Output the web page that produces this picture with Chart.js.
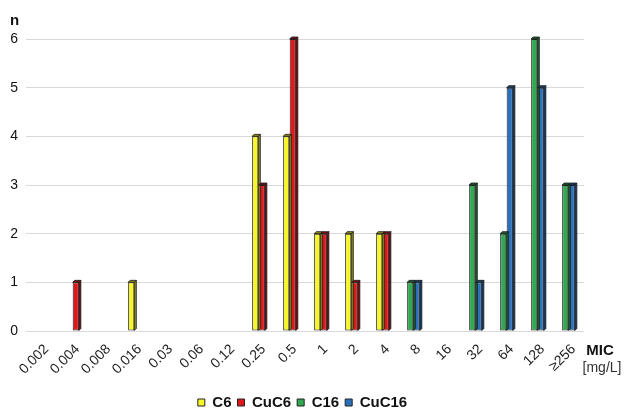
<!DOCTYPE html>
<html>
<head>
<meta charset="utf-8">
<script src="https://cdn.jsdelivr.net/npm/chart.js@4"></script>
<style>
  html, body { margin: 0; padding: 0; background: #fff; }
  #wrap { width: 625px; height: 411px; position: relative; }
</style>
</head>
<body>
<div id="wrap"><canvas id="myChart" width="625" height="411"></canvas></div>
<script>
// MIC categories (mg/L)
const micLabels = ['0.002', '0.004', '0.008', '0.016', '0.03', '0.06', '0.12', '0.25', '0.5',
                   '1', '2', '4', '8', '16', '32', '64', '128', '≥256'];
// number of strains per MIC value
const c6Counts    = [null, null, null, 1, null, null, null, 4, 4, 2, 2, 2, null, null, null, null, null, null];
const cuC6Counts  = [null, 1, null, null, null, null, null, 3, 6, 2, 1, 2, null, null, null, null, null, null];
const c16Counts   = [null, null, null, null, null, null, null, null, null, null, null, null, 1, null, 3, 2, 6, 3];
const cuC16Counts = [null, null, null, null, null, null, null, null, null, null, null, null, 1, null, 1, 5, 5, 3];
const yTicks = [0, 1, 2, 3, 4, 5, 6];

const FONT = "'Liberation Sans', Arial, sans-serif";

// darker side face + top cap, gives the bars the old 3D look
const sideFaces = {
    id: 'sideFaces',
    afterDatasetsDraw(chart) {
        const ctx = chart.ctx;
        const d = 2;
        chart.data.datasets.forEach((ds, i) => {
            const meta = chart.getDatasetMeta(i);
            meta.data.forEach((bar, j) => {
                if (ds.data[j] == null) return;
                const right = bar.x + bar.width / 2;
                const left = bar.x - bar.width / 2;
                ctx.save();
                ctx.fillStyle = ds.sideColor;
                ctx.strokeStyle = '#1a1a1a';
                ctx.lineWidth = 0.8;
                ctx.beginPath();
                ctx.moveTo(right, bar.y);
                ctx.lineTo(right + d, bar.y - d);
                ctx.lineTo(right + d, bar.base - d);
                ctx.lineTo(right, bar.base);
                ctx.closePath();
                ctx.fill();
                ctx.stroke();
                ctx.beginPath();
                ctx.moveTo(left, bar.y);
                ctx.lineTo(left + d, bar.y - d);
                ctx.lineTo(right + d, bar.y - d);
                ctx.lineTo(right, bar.y);
                ctx.closePath();
                ctx.fill();
                ctx.stroke();
                ctx.restore();
            });
        });
    }
};

// "n" and "MIC [mg/L]" axis captions
const captions = {
    id: 'captions',
    afterDraw(chart) {
        const ctx = chart.ctx;
        const area = chart.chartArea;
        ctx.save();
        ctx.fillStyle = '#111';
        ctx.textBaseline = 'middle';
        ctx.textAlign = 'left';
        ctx.font = 'bold 15px ' + FONT;
        ctx.fillText('n', 10, 21);
        ctx.textAlign = 'center';
        ctx.fillText('MIC', area.right + 16, 351);
        ctx.font = '14px ' + FONT;
        ctx.fillStyle = '#333';
        ctx.fillText('[mg/L]', area.right + 18, 368);
        ctx.restore();
    }
};

let ctx = document.getElementById('myChart').getContext('2d');
let chart = new Chart(ctx, {
    type: 'bar',
    data: {
        labels: micLabels,
        datasets: [
            { label: 'C6', data: c6Counts, stack: 'a', backgroundColor: '#f8f52a', sideColor: '#8c8a18' },
            { label: 'CuC6', data: cuC6Counts, stack: 'b', backgroundColor: '#dc1a1c', sideColor: '#7a0e0f' },
            { label: 'C16', data: c16Counts, stack: 'a', backgroundColor: '#33a852', sideColor: '#1c5e2e' },
            { label: 'CuC16', data: cuC16Counts, stack: 'b', backgroundColor: '#2a70bb', sideColor: '#173f6a' }
        ].map(ds => Object.assign(ds, {
            borderColor: '#222',
            borderWidth: 1,
            borderSkipped: false,
            categoryPercentage: 0.42,
            barPercentage: 0.95
        }))
    },
    options: {
        responsive: false,
        animation: false,
        layout: { padding: { top: 39, left: 0, right: 20, bottom: -9 } },
        plugins: {
            tooltip: { enabled: false },
            legend: {
                position: 'bottom',
                labels: {
                    color: '#111',
                    font: { family: FONT, size: 15, weight: 'bold' },
                    boxWidth: 7,
                    boxHeight: 7,
                    padding: 6
                }
            }
        },
        scales: {
            x: {
                stacked: true,
                grid: { display: false },
                border: { display: false },
                ticks: {
                    color: '#222',
                    font: { family: FONT, size: 14 },
                    minRotation: 45,
                    maxRotation: 45,
                    autoSkip: false,
                    padding: 2,
                    labelOffset: 5
                },
                afterFit(scale) { scale.height = 58; }
            },
            y: {
                stacked: true,
                min: 0,
                max: 6,
                afterBuildTicks(scale) { scale.ticks = yTicks.map(v => ({ value: v })); },
                grid: { color: '#d9d9d9', drawTicks: false },
                border: { display: false },
                ticks: {
                    color: '#111',
                    font: { family: FONT, size: 14 },
                    padding: 8
                },
                afterFit(scale) { scale.width = 26; }
            },
            y2: {
                position: 'right',
                display: true,
                grid: { display: false },
                border: { display: false },
                ticks: { display: false },
                afterFit(scale) { scale.width = 21; }
            }
        }
    },
    plugins: [sideFaces, captions]
});
</script>
</body>
</html>
